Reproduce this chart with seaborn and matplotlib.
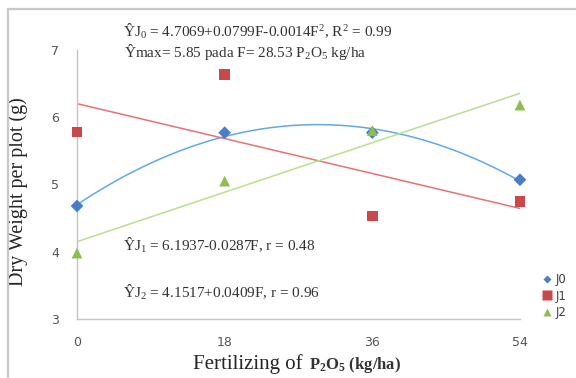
import numpy as np
import pandas as pd
import matplotlib
matplotlib.use('Agg')
import matplotlib.pyplot as plt
from matplotlib.lines import Line2D
from matplotlib.offsetbox import TextArea, HPacker, AnchoredOffsetbox
import seaborn as sns

# DATA
dose = [0, 18, 36, 54]
j0 = [4.68, 5.77, 5.77, 5.07]
j1 = [5.78, 6.63, 4.53, 4.75]
j2 = [3.98, 5.05, 5.80, 6.18]
groups = ['J0', 'J1', 'J2']

data = pd.DataFrame({
    'F': dose * 3,
    'w': j0 + j1 + j2,
    'grp': [g for g in groups for _ in dose],
})

# STYLE
sns.set_style('white')
plt.rcParams['font.family'] = ['Liberation Serif', 'DejaVu Serif']
plt.rcParams['mathtext.fontset'] = 'custom'
plt.rcParams['mathtext.rm'] = 'Liberation Serif'
plt.rcParams['mathtext.bf'] = 'Liberation Serif:bold'
plt.rcParams['mathtext.default'] = 'regular'

pt_col = {'J0': '#4A7EC4', 'J1': '#C9484A', 'J2': '#8DBE4E'}
ln_col = {'J0': '#62A8E6', 'J1': '#E87272', 'J2': '#B8E08E'}
order = {'J0': 2, 'J1': 1, 'J2': 1}

fig = plt.figure(figsize=(5.76, 3.78), dpi=100)
ax = fig.add_axes([0.1337, 0.156, 0.769, 0.712])

# TRENDLINES
for g in groups:
    sub = data[data['grp'] == g]
    sns.regplot(data=sub, x='F', y='w', order=order[g], ci=None,
                scatter=False, truncate=True, ax=ax,
                line_kws={'color': ln_col[g], 'lw': 1.1})

# POINTS
sns.scatterplot(data=data, x='F', y='w', hue='grp', style='grp',
                palette=pt_col, markers={'J0': 'D', 'J1': 's', 'J2': '^'},
                size='grp', sizes={'J0': 42, 'J1': 60, 'J2': 60},
                edgecolor='none', ax=ax, zorder=3, clip_on=False, legend=False)

ax.set_xlim(0, 54)
ax.set_ylim(3, 7)
ax.set_xticks(dose)
ax.set_yticks([3, 4, 5, 6, 7])
for side in ['top', 'right']:
    ax.spines[side].set_visible(False)
for side in ['left', 'bottom']:
    ax.spines[side].set_color('#C4C4C4')
    ax.spines[side].set_linewidth(1.0)
ax.tick_params(axis='both', colors='#C4C4C4', labelcolor='#555555',
               length=4, width=0.8, labelsize=9)
for lab in ax.get_xticklabels() + ax.get_yticklabels():
    lab.set_family('DejaVu Sans')
ax.tick_params(axis='x', direction='out', pad=8)
ax.tick_params(axis='y', direction='out', pad=9)

# AXIS LABELS
ax.set_xlabel('')
ax.set_ylabel('Dry Weight per plot (g)', fontsize=14.5, va='center')
ax.yaxis.set_label_coords(-0.133, 0.475)

t1 = TextArea('Fertilizing of', textprops=dict(fontsize=15))
t2 = TextArea('P$_2$O$_5$ (kg/ha)', textprops=dict(fontsize=12, fontweight='bold',
                                                   color='#333333'))
xbox = HPacker(children=[t1, t2], align='baseline', pad=0, sep=4)
fig.add_artist(AnchoredOffsetbox(loc='center', child=xbox, pad=0, borderpad=0,
                                 frameon=False,
                                 bbox_to_anchor=(297 / 576, 1 - 365 / 378),
                                 bbox_transform=fig.transFigure))

# EQUATIONS
eq_kw = dict(fontsize=11, color='#333333', va='center', clip_on=False)
ax.text(5.6, 7.28, 'ŶJ$_0$ = 4.7069+0.0799F-0.0014F$^2$, R$^2$ = 0.99', **eq_kw)
ax.text(5.7, 6.97, 'Ŷmax= 5.85 pada F= 28.53 P$_2$O$_5$ kg/ha', **eq_kw)
ax.text(5.6, 4.09, 'ŶJ$_1$ = 6.1937-0.0287F, r = 0.48', **eq_kw)
ax.text(5.6, 3.39, 'ŶJ$_2$ = 4.1517+0.0409F, r = 0.96', **eq_kw)

# LEGEND
mk = {'J0': ('D', 4.5), 'J1': ('s', 6.5), 'J2': ('^', 6)}
handles = [Line2D([], [], ls='none', marker=mk[g][0], ms=mk[g][1],
                  color=pt_col[g], mec='none') for g in groups]
fig.legend(handles, groups, loc='upper left', bbox_to_anchor=(0.942, 1 - 273 / 378),
           frameon=False, borderpad=0, borderaxespad=0, handletextpad=0.3,
           labelspacing=0.3, handlelength=0.8,
           prop={'family': 'DejaVu Sans', 'size': 8.5}, labelcolor='#404040')

# FRAME
fig.add_artist(Line2D([8 / 576, 8 / 576], [0, 1 - 9 / 378], transform=fig.transFigure,
                      color='#C8C8C8', lw=1.6))
fig.add_artist(Line2D([8 / 576, 1], [1 - 9 / 378, 1 - 9 / 378], transform=fig.transFigure,
                      color='#C8C8C8', lw=1.6))

plt.savefig('out.png', dpi=100)
